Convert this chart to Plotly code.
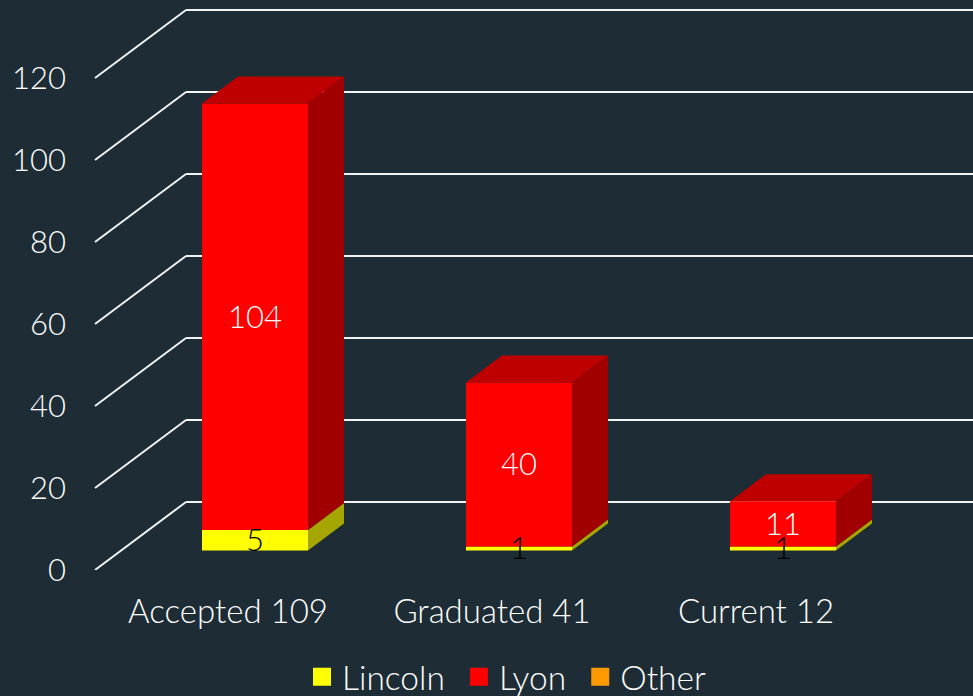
import plotly.graph_objects as go

# ---- data ----
categories = ["Accepted 109", "Graduated 41", "Current 12"]
lincoln = [5, 1, 1]
lyon = [104, 40, 11]
other = [0, 0, 0]
value_ticks = [0, 20, 40, 60, 80, 100, 120]

W, H = 973, 696
BG = "#1e2d35"
FONT = "Lato, 'Open Sans', sans-serif"
PX = 4.1            # pixels per value unit
STEP = 264          # pixels per category


def xdom(left, right):
    return [left / W, right / W]


def ydom(zero_px, top_px):
    return [(H - zero_px) / H, (H - top_px) / H]


fig = go.Figure()

series = [
    ("Lincoln", lincoln, "#ffff00", "#a6a600", "#000000"),
    ("Lyon", lyon, "#ff0000", "#a00000", "#ffffff"),
    ("Other", other, "#ff9900", "#a66300", "#ffffff"),
]
TOP_FACE = "#bf0000"
xs = list(range(len(categories)))
DX = 36 / STEP
DY = 27 / PX
HALF = 106 / STEP / 2
LABEL_NUDGE = 3 / PX

# back wall grid (first subplot so it stays under the bars)
fig.add_trace(go.Scatter(x=[0], y=[0], mode="markers", marker=dict(opacity=0),
                         xaxis="x", yaxis="y", showlegend=False, hoverinfo="skip"))
# front axes carry tick labels
fig.add_trace(go.Scatter(x=categories, y=[0, 0, 0], mode="markers", marker=dict(opacity=0),
                         xaxis="x2", yaxis="y2", showlegend=False, hoverinfo="skip"))

# bars and their side faces
bottoms = [0 for _ in xs]
labels = []
for name, vals, col, side, tcol in series:
    if any(vals):
        fig.add_trace(go.Bar(
            x=xs, y=vals, base=bottoms, width=106 / STEP, name=name,
            marker=dict(color=col, line=dict(width=0)),
            xaxis="x3", yaxis="y3", showlegend=False,
        ))
        for i, v in zip(xs, vals):
            b, t = bottoms[i], bottoms[i] + v
            r = i + HALF
            fig.add_trace(go.Scatter(
                x=[r, r + DX, r + DX, r, r], y=[b, b + DY, t + DY, t, b],
                mode="lines", line=dict(width=0), fill="toself", fillcolor=side,
                xaxis="x3", yaxis="y3", showlegend=False, hoverinfo="skip"))
        labels.append(([b + v / 2 - LABEL_NUDGE for b, v in zip(bottoms, vals)], vals, tcol))
        bottoms = [b + v for b, v in zip(bottoms, vals)]

# top faces on the stacks
for i, t in zip(xs, bottoms):
    l, r = i - HALF, i + HALF
    fig.add_trace(go.Scatter(
        x=[l, r, r + DX, l + DX, l], y=[t, t, t + DY, t + DY, t],
        mode="lines", line=dict(width=0), fill="toself", fillcolor=TOP_FACE,
        xaxis="x3", yaxis="y3", showlegend=False, hoverinfo="skip"))

# value labels above every bar
for ys, vals, tcol in labels:
    fig.add_trace(go.Scatter(
        x=xs, y=ys, mode="text", text=[str(v) for v in vals], textposition="middle center",
        textfont=dict(color=tcol, size=31, family=FONT, weight=300),
        xaxis="x3", yaxis="y3", showlegend=False, hoverinfo="skip", cliponaxis=False))

# legend entries
for name, vals, col, side, tcol in series:
    fig.add_trace(go.Scatter(
        x=[None], y=[None], mode="markers", name=name + "\u00a0", xaxis="x3", yaxis="y3",
        marker=dict(symbol="square", size=16, color=col, line=dict(color=col, width=2)),
    ))

# diagonal side-wall lines
shapes = [
    dict(type="line", xref="paper", yref="y2", x0=95 / W, x1=186 / W,
         y0=v, y1=v + 68 / PX, line=dict(color="#f2f2f2", width=2), layer="below")
    for v in value_ticks
]

hidden = dict(visible=False, fixedrange=True)
fig.update_layout(
    width=W, height=H, autosize=False,
    margin=dict(l=0, r=0, t=0, b=0, autoexpand=False),
    paper_bgcolor=BG, plot_bgcolor="rgba(0,0,0,0)",
    font=dict(family=FONT, size=31, color="#ffffff", weight=300),
    barmode="overlay",
    shapes=shapes,
    showlegend=True,
    legend=dict(orientation="h", x=302 / W, xanchor="left", y=(0.5 * 36 + 1) / H, yanchor="middle",
                bgcolor="rgba(0,0,0,0)", font=dict(size=33.5, family=FONT, weight=300, color="#ffffff"),
                itemclick=False, itemdoubleclick=False),
    # back wall
    xaxis=dict(domain=xdom(186, W), anchor="y", range=[0, 1], **hidden),
    yaxis=dict(domain=ydom(502 + 2 * PX, 10 - 2 * PX), anchor="x", range=[-2, 122], tickvals=value_ticks,
               showgrid=True, gridcolor="#f2f2f2", gridwidth=2, zeroline=False,
               showticklabels=False, showline=False, ticks="", fixedrange=True),
    # front axes with labels
    xaxis2=dict(domain=xdom(96, 888), anchor="y2", type="category", categoryorder="array",
                categoryarray=categories, range=[-0.5, 2.5], showgrid=False, zeroline=False,
                showline=False, ticks="", tickfont=dict(size=33, family=FONT, weight=300, color="#ffffff"),
                ticklabelstandoff=19, fixedrange=True),
    yaxis2=dict(domain=ydom(570, 570 - 138 * PX), anchor="free", position=66 / W, range=[0, 138],
                tickvals=value_ticks, showgrid=False, zeroline=False, showline=False, ticks="",
                tickfont=dict(size=31, family=FONT, weight=300, color="#ffffff"), fixedrange=True),
    # bars
    xaxis3=dict(domain=xdom(123, 915), anchor="y3", range=[-0.5, 2.5], **hidden),
    yaxis3=dict(domain=ydom(550.5 + 10 * PX, 58.5), anchor="x3", range=[-10, 120], **hidden),
)

fig.write_html("out.html", config=dict(displayModeBar=False),
               post_script=f"document.body.style.margin='0';document.body.style.background='{BG}';")
